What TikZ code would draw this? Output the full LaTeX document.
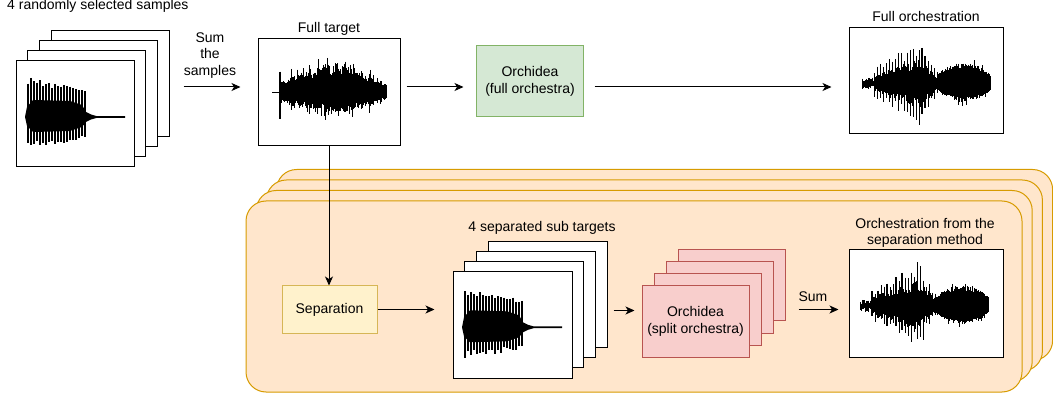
\documentclass[tikz,border=0pt]{standalone}
\usepackage{fontspec}
\setmainfont{Liberation Sans}
\usetikzlibrary{arrows.meta,calc}
\definecolor{orfill}{HTML}{FFE6CC}
\definecolor{orline}{HTML}{D79B00}
\definecolor{gfill}{HTML}{D5E8D4}
\definecolor{gline}{HTML}{82B366}
\definecolor{yfill}{HTML}{FFF2CC}
\definecolor{yline}{HTML}{D6B656}
\definecolor{rfill}{HTML}{F8CECC}
\definecolor{rline}{HTML}{B85450}
\tikzset{
  panel/.style={draw=black, fill=white, line width=1pt, inner sep=0pt},
  sample/.style={panel, minimum width=118pt, minimum height=106pt},
  layer/.style={draw=orline, fill=orfill, line width=1pt, rounded corners=20pt,
                minimum width=776pt, minimum height=191pt, inner sep=0pt},
  greenbox/.style={draw=gline, fill=gfill, line width=1pt, inner sep=0pt, align=center,
                minimum width=107pt, minimum height=71pt},
  yellowbox/.style={draw=yline, fill=yfill, line width=1pt, inner sep=0pt,
                minimum width=95pt, minimum height=47pt},
  redbox/.style={draw=rline, fill=rfill, line width=1pt, inner sep=0pt, align=center,
                minimum width=107pt, minimum height=71pt},
  lbl/.style={inner sep=0pt, align=center},
  arr/.style={line width=1pt, -{Stealth[length=9pt,width=8pt,inset=2.5pt]}},
  pics/pulsewave/.style={code={
    \pgfmathsetseed{#1}
    \fill (0,0) -- (2,-10) -- (8,-17) -- (45,-16) -- (57,-12) -- (61,-5) -- (66,-2.5)
       -- (72,-0.8) -- (100,-0.8) -- (100,0.8) -- (72,0.8) -- (66,2.5) -- (61,5)
       -- (57,10) -- (45,14) -- (8,15) -- (2,9) -- cycle;
    \foreach \i in {0,...,19}{
      \pgfmathsetmacro\tp{-(40-\i*0.65)*(0.82+0.18*rnd)}
      \pgfmathsetmacro\bt{(31-\i*0.4)*(0.75+0.25*rnd)}
      \draw[line width=1.4pt] (3+\i*3,\tp) -- (3+\i*3,\bt);
    }
  }},
  pics/noisewave/.style={code={
    \pgfmathsetseed{#1}
    \draw[line width=1pt] (0,0) -- (9,0);
    \draw[line width=1.3pt] (8,-21) -- (8,26);
    \foreach \i in {0,...,132}{
      \pgfmathsetmacro\xx{9+\i*0.8}
      \pgfmathsetmacro\env{7+20*sin((\xx-3)/115*180)}
      \pgfmathsetmacro\md{0.85+0.12*sin(\xx*41)+0.1*sin(\xx*97)}
      \pgfmathsetmacro\tp{-\env*\md*(0.85+0.3*rnd+2.5*max(0,rnd-0.8))}
      \pgfmathsetmacro\bt{0.75*\env*\md*(0.85+0.3*rnd+3*max(0,rnd-0.8))}
      \draw[line width=1pt] (\xx,\tp) -- (\xx,\bt);
    }
  }},
  pics/orchwave/.style={code={
    \pgfmathsetseed{#1}
    \foreach \i in {0,...,15}{
      \pgfmathsetmacro\xx{\i*0.8}
      \pgfmathsetmacro\tp{-(2+4*rnd)}
      \pgfmathsetmacro\bt{2+4*rnd}
      \draw[line width=1pt] (\xx,\tp) -- (\xx,\bt);
    }
    \foreach \i in {0,...,80}{
      \pgfmathsetmacro\xx{12+\i*0.8}
      \pgfmathsetmacro\env{\xx<58 ? 14+29*((\xx-11)/47) : 43-(\xx-58)*1.8}
      \pgfmathsetmacro\tp{-0.5*\env*(0.7+0.5*rnd)}
      \pgfmathsetmacro\bt{0.5*\env*(0.7+0.5*rnd)}
      \draw[line width=1pt] (\xx,\tp) -- (\xx,\bt);
    }
    \foreach \i in {0,...,21}{
      \pgfmathsetmacro\xx{12+\i*3+0.8*rnd}
      \pgfmathsetmacro\env{\xx<58 ? 14+29*((\xx-11)/47) : 43-(\xx-58)*1.8}
      \pgfmathsetmacro\tp{-\env*(0.65+0.4*rnd)}
      \pgfmathsetmacro\bt{\env*(0.6+0.45*rnd)}
      \draw[line width=1.3pt] (\xx,\tp) -- (\xx,\bt);
    }
    \foreach \i in {0,...,65}{
      \pgfmathsetmacro\xx{76+\i*0.8}
      \pgfmathsetmacro\env{3+16*sqrt(abs(sin((\xx-74)/56*180)))}
      \pgfmathsetmacro\tp{-\env*(0.8+0.25*rnd+2*max(0,rnd-0.85))}
      \pgfmathsetmacro\bt{0.9*\env*(0.8+0.25*rnd+2*max(0,rnd-0.85))}
      \draw[line width=1pt] (\xx,\tp) -- (\xx,\bt);
    }
  }}
}
\begin{document}
\begin{tikzpicture}[x=1pt, y=-1pt, font=\fontsize{14}{16.5}\selectfont]
\useasboundingbox (0,0) rectangle (1053,398);
\coordinate (rowA) at (0,87);
\coordinate (rowB) at (0,309.5);
\coordinate (rowC) at (0,310.5);

% orange background layers
\node[layer] (L4) at (664.6,265) {};
\node[layer] (L3) at (654.4,275.5) {};
\node[layer] (L2) at (644.2,286) {};
\node[layer] (L1) at (634,296.5) {};

% input samples
\node[anchor=base west, inner sep=0pt] (tsamples) at (7,10) {4 randomly selected samples};
\node[sample] (s4) at (110.1,83.1) {};
\node[sample] (s3) at (98.4,93.4) {};
\node[sample] (s2) at (86.7,103.7) {};
\node[sample] (s1) at (75,114) {};
\pic at (25,117) {pulsewave=3};

\node[lbl] (tsum) at (210,55.5) {Sum\\the\\samples};

% full target
\node[lbl] (tft) at (329,29) {Full target};
\node[panel, minimum width=142pt, minimum height=107pt] (ft) at (329,92.5) {};
\pic at (272,92.7) {noisewave=7};

% orchidea full
\node[greenbox] (orf) at (530,81.2) {Orchidea\\(full orchestra)};

% full orchestration
\node[lbl] (tfo) at (926,16) {Full orchestration};
\node[panel, minimum width=154pt, minimum height=106pt] (fo) at (926,81) {};
\pic at (862,83.3) {orchwave=11};

% separation
\node[yellowbox] (sep) at (329.5,309.5) {Separation};

% sub targets
\node[lbl] (tsub) at (542,228) {4 separated sub targets};
\node[sample, minimum width=119pt] (t4) at (547.6,294.1) {};
\node[sample, minimum width=119pt] (t3) at (535.9,304.4) {};
\node[sample, minimum width=119pt] (t2) at (524.2,314.7) {};
\node[sample, minimum width=119pt] (t1) at (512.5,325) {};
\pic at (462,327.3) {pulsewave=5};

% orchidea split
\node[redbox] (os4) at (731.5,285.5) {};
\node[redbox] (os3) at (719.5,297.5) {};
\node[redbox] (os2) at (707.5,309.5) {};
\node[redbox] (os1) at (695.5,321.5) {Orchidea\\(split orchestra)};

% orchestration from separation
\node[lbl] (tfs) at (925,233) {Orchestration from the\\separation method};
\node[panel, minimum width=154pt, minimum height=107pt] (fs) at (926,303.5) {};
\pic at (860,305.7) {orchwave=13};
\node[lbl] (tsm) at (813,297) {Sum};

% connectors
\draw[arr, shorten <=14pt, shorten >=17pt] (s4.east |- rowA) -- (ft.west |- rowA);
\draw[arr, shorten <=6pt, shorten >=12.5pt] (ft.east |- rowA) -- (orf.west |- rowA);
\draw[arr, shorten <=10.5pt, shorten >=17pt] (orf.east |- rowA) -- (fo.west |- rowA);
\draw[arr] (ft.south) -- (ft.south |- sep.north);
\draw[arr, shorten >=18pt] (sep.east |- rowB) -- (t1.west |- rowB);
\draw[arr, shorten <=6pt, shorten >=7pt] (t4.east |- rowC) -- (os1.west |- rowC);
\draw[arr, shorten <=13pt, shorten >=10pt] (os4.east |- rowB) -- (fs.west |- rowB);
\end{tikzpicture}
\end{document}
